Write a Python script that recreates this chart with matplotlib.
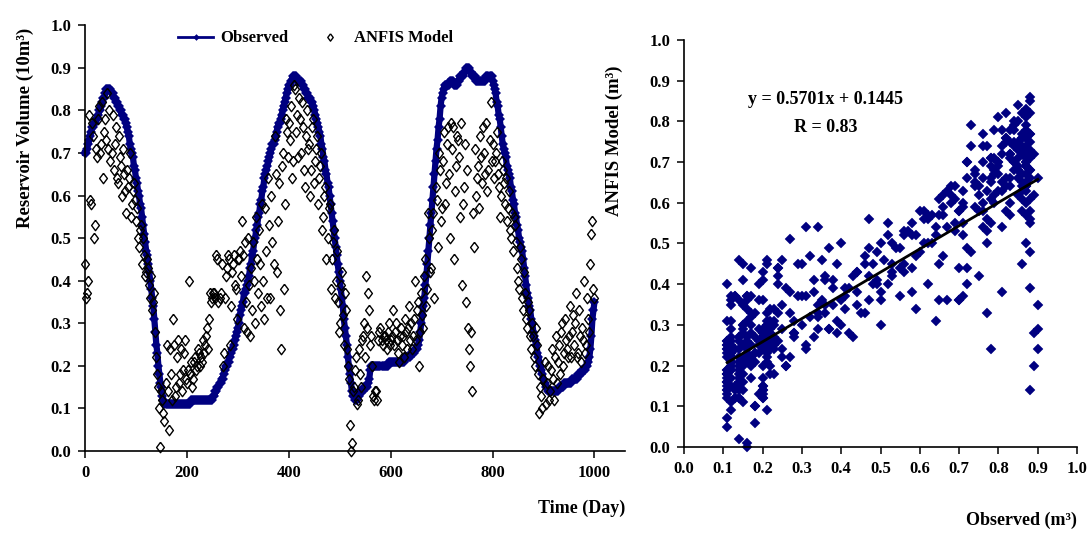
import matplotlib
matplotlib.use('Agg')
import matplotlib.pyplot as plt

plt.rcParams['font.family'] = ['Liberation Serif', 'DejaVu Serif']
plt.rcParams['font.weight'] = 'bold'
plt.rcParams['axes.labelweight'] = 'bold'

# ---------------- data ----------------
day = list(range(0, 1001, 2))

observed = [
    0.70, 0.70, 0.71, 0.72, 0.73, 0.74, 0.75, 0.76, 0.76, 0.77, 0.77, 0.78, 0.78, 0.79, 0.80, 0.80, 0.81, 0.82, 0.83, 0.83,
    0.84, 0.85, 0.85, 0.85, 0.85, 0.85, 0.84, 0.84, 0.83, 0.83, 0.82, 0.82, 0.81, 0.81, 0.80, 0.80, 0.79, 0.79, 0.78, 0.78,
    0.77, 0.76, 0.75, 0.74, 0.72, 0.71, 0.70, 0.69, 0.67, 0.66, 0.64, 0.63, 0.61, 0.60, 0.58, 0.57, 0.55, 0.53, 0.51, 0.49,
    0.47, 0.46, 0.44, 0.42, 0.40, 0.38, 0.36, 0.34, 0.31, 0.28, 0.25, 0.23, 0.20, 0.18, 0.16, 0.15, 0.13, 0.12, 0.11, 0.11,
    0.11, 0.11, 0.11, 0.11, 0.11, 0.11, 0.11, 0.11, 0.11, 0.11, 0.11, 0.11, 0.11, 0.11, 0.11, 0.11, 0.11, 0.11, 0.11, 0.11,
    0.11, 0.11, 0.11, 0.11, 0.12, 0.12, 0.12, 0.12, 0.12, 0.12, 0.12, 0.12, 0.12, 0.12, 0.12, 0.12, 0.12, 0.12, 0.12, 0.12,
    0.12, 0.12, 0.12, 0.12, 0.12, 0.12, 0.13, 0.13, 0.14, 0.14, 0.15, 0.15, 0.16, 0.16, 0.17, 0.17, 0.18, 0.19, 0.20, 0.20,
    0.21, 0.21, 0.22, 0.23, 0.24, 0.24, 0.25, 0.26, 0.27, 0.28, 0.29, 0.30, 0.32, 0.33, 0.34, 0.35, 0.37, 0.37, 0.38, 0.39,
    0.40, 0.41, 0.43, 0.44, 0.46, 0.47, 0.49, 0.50, 0.52, 0.53, 0.55, 0.56, 0.58, 0.59, 0.61, 0.62, 0.64, 0.65, 0.66, 0.67,
    0.68, 0.69, 0.70, 0.71, 0.72, 0.72, 0.73, 0.74, 0.75, 0.76, 0.77, 0.77, 0.78, 0.79, 0.80, 0.81, 0.82, 0.83, 0.84, 0.85,
    0.86, 0.86, 0.87, 0.87, 0.88, 0.88, 0.88, 0.88, 0.87, 0.87, 0.87, 0.87, 0.87, 0.86, 0.86, 0.85, 0.85, 0.84, 0.84, 0.83,
    0.83, 0.83, 0.82, 0.82, 0.81, 0.80, 0.79, 0.78, 0.77, 0.76, 0.75, 0.74, 0.72, 0.71, 0.69, 0.68, 0.66, 0.65, 0.63, 0.62,
    0.60, 0.58, 0.56, 0.54, 0.52, 0.50, 0.48, 0.46, 0.44, 0.42, 0.40, 0.38, 0.36, 0.34, 0.31, 0.29, 0.27, 0.25, 0.22, 0.20,
    0.18, 0.16, 0.14, 0.13, 0.13, 0.12, 0.12, 0.12, 0.13, 0.13, 0.14, 0.14, 0.14, 0.14, 0.15, 0.15, 0.15, 0.15, 0.16, 0.17,
    0.19, 0.20, 0.20, 0.20, 0.20, 0.20, 0.20, 0.20, 0.20, 0.20, 0.20, 0.20, 0.20, 0.20, 0.20, 0.20, 0.20, 0.20, 0.21, 0.21,
    0.21, 0.21, 0.21, 0.21, 0.21, 0.21, 0.21, 0.21, 0.21, 0.21, 0.21, 0.21, 0.21, 0.21, 0.22, 0.22, 0.22, 0.22, 0.22, 0.22,
    0.23, 0.23, 0.23, 0.23, 0.24, 0.24, 0.24, 0.25, 0.26, 0.28, 0.30, 0.32, 0.34, 0.36, 0.39, 0.41, 0.44, 0.47, 0.50, 0.53,
    0.56, 0.59, 0.62, 0.65, 0.68, 0.71, 0.73, 0.76, 0.78, 0.81, 0.83, 0.84, 0.85, 0.86, 0.86, 0.86, 0.86, 0.86, 0.87, 0.87,
    0.87, 0.87, 0.86, 0.86, 0.86, 0.86, 0.87, 0.87, 0.88, 0.88, 0.88, 0.88, 0.89, 0.89, 0.90, 0.90, 0.90, 0.90, 0.89, 0.89,
    0.88, 0.88, 0.88, 0.88, 0.87, 0.87, 0.87, 0.87, 0.87, 0.87, 0.87, 0.87, 0.87, 0.87, 0.88, 0.88, 0.88, 0.88, 0.88, 0.88,
    0.87, 0.86, 0.85, 0.84, 0.82, 0.81, 0.79, 0.78, 0.76, 0.74, 0.72, 0.71, 0.70, 0.69, 0.67, 0.66, 0.65, 0.64, 0.62, 0.61,
    0.59, 0.58, 0.56, 0.55, 0.53, 0.52, 0.50, 0.49, 0.48, 0.47, 0.45, 0.43, 0.41, 0.39, 0.37, 0.36, 0.34, 0.33, 0.31, 0.30,
    0.28, 0.27, 0.26, 0.25, 0.23, 0.22, 0.21, 0.20, 0.19, 0.18, 0.17, 0.16, 0.15, 0.15, 0.14, 0.14, 0.14, 0.14, 0.14, 0.14,
    0.14, 0.14, 0.14, 0.14, 0.14, 0.15, 0.15, 0.15, 0.15, 0.15, 0.16, 0.16, 0.16, 0.16, 0.16, 0.16, 0.16, 0.16, 0.17, 0.17,
    0.17, 0.17, 0.17, 0.17, 0.18, 0.18, 0.18, 0.18, 0.19, 0.19, 0.19, 0.19, 0.20, 0.20, 0.21, 0.22, 0.24, 0.27, 0.31, 0.33,
    0.35,
]

anfis = [
    0.44, 0.36, 0.37, 0.40, 0.79, 0.59, 0.58, 0.77, 0.74, 0.50, 0.53, 0.71, 0.69, 0.78, 0.81, 0.70, 0.72, 0.82, 0.64, 0.75,
    0.78, 0.73, 0.84, 0.71, 0.80, 0.68, 0.70, 0.79, 0.66, 0.72, 0.76, 0.64, 0.63, 0.74, 0.69, 0.67, 0.60, 0.71, 0.65, 0.61,
    0.56, 0.66, 0.62, 0.64, 0.70, 0.55, 0.58, 0.61, 0.63, 0.59, 0.54, 0.57, 0.50, 0.48, 0.52, 0.53, 0.44, 0.50, 0.46, 0.41,
    0.42, 0.45, 0.43, 0.39, 0.36, 0.41, 0.33, 0.35, 0.37, 0.28, 0.22, 0.18, 0.15, 0.10, 0.01, 0.14, 0.12, 0.09, 0.07, 0.16,
    0.25, 0.14, 0.05, 0.24, 0.18, 0.12, 0.31, 0.25, 0.13, 0.15, 0.22, 0.26, 0.16, 0.18, 0.24, 0.14, 0.19, 0.23, 0.26, 0.17,
    0.16, 0.19, 0.40, 0.18, 0.21, 0.15, 0.17, 0.21, 0.22, 0.19, 0.20, 0.24, 0.23, 0.20, 0.22, 0.21, 0.26, 0.23, 0.25, 0.27,
    0.29, 0.24, 0.31, 0.37, 0.35, 0.36, 0.37, 0.37, 0.36, 0.46, 0.45, 0.35, 0.36, 0.37, 0.44, 0.20, 0.23, 0.36, 0.41, 0.43,
    0.46, 0.45, 0.25, 0.34, 0.42, 0.44, 0.46, 0.39, 0.38, 0.31, 0.45, 0.45, 0.47, 0.41, 0.54, 0.46, 0.29, 0.49, 0.35, 0.28,
    0.50, 0.39, 0.27, 0.43, 0.33, 0.49, 0.40, 0.30, 0.55, 0.45, 0.37, 0.52, 0.44, 0.34, 0.58, 0.40, 0.31, 0.57, 0.47, 0.36,
    0.64, 0.53, 0.36, 0.60, 0.49, 0.44, 0.74, 0.65, 0.42, 0.54, 0.63, 0.33, 0.24, 0.67, 0.70, 0.38, 0.58, 0.78, 0.75, 0.69,
    0.77, 0.73, 0.81, 0.64, 0.68, 0.86, 0.85, 0.75, 0.79, 0.69, 0.83, 0.78, 0.70, 0.82, 0.76, 0.66, 0.62, 0.74, 0.80, 0.71,
    0.72, 0.60, 0.66, 0.76, 0.78, 0.63, 0.68, 0.71, 0.74, 0.58, 0.64, 0.67, 0.70, 0.52, 0.55, 0.60, 0.62, 0.45, 0.50, 0.57,
    0.58, 0.38, 0.45, 0.49, 0.52, 0.36, 0.40, 0.47, 0.35, 0.28, 0.30, 0.39, 0.42, 0.32, 0.25, 0.37, 0.33, 0.24, 0.20, 0.17,
    0.06, 0.00, 0.02, 0.14, 0.15, 0.19, 0.22, 0.11, 0.12, 0.24, 0.18, 0.15, 0.26, 0.27, 0.30, 0.22, 0.41, 0.29, 0.37, 0.33,
    0.25, 0.27, 0.20, 0.13, 0.12, 0.14, 0.14, 0.12, 0.26, 0.28, 0.29, 0.26, 0.25, 0.27, 0.27, 0.26, 0.24, 0.28, 0.30, 0.25,
    0.26, 0.27, 0.33, 0.25, 0.28, 0.30, 0.26, 0.23, 0.21, 0.27, 0.29, 0.25, 0.27, 0.22, 0.31, 0.28, 0.24, 0.29, 0.34, 0.26,
    0.30, 0.24, 0.27, 0.31, 0.40, 0.26, 0.33, 0.35, 0.20, 0.28, 0.37, 0.32, 0.29, 0.41, 0.45, 0.34, 0.38, 0.56, 0.50, 0.42,
    0.43, 0.52, 0.56, 0.36, 0.62, 0.59, 0.48, 0.70, 0.66, 0.54, 0.57, 0.68, 0.75, 0.58, 0.63, 0.72, 0.76, 0.65, 0.50, 0.77,
    0.71, 0.76, 0.45, 0.61, 0.67, 0.74, 0.73, 0.69, 0.55, 0.77, 0.39, 0.58, 0.62, 0.72, 0.35, 0.66, 0.29, 0.24, 0.20, 0.28,
    0.14, 0.56, 0.48, 0.71, 0.60, 0.64, 0.67, 0.57, 0.74, 0.69, 0.63, 0.76, 0.70, 0.65, 0.77, 0.61, 0.66, 0.73, 0.82, 0.68,
    0.72, 0.64, 0.68, 0.70, 0.75, 0.65, 0.62, 0.55, 0.60, 0.68, 0.66, 0.63, 0.58, 0.64, 0.54, 0.57, 0.61, 0.52, 0.50, 0.56,
    0.47, 0.55, 0.53, 0.49, 0.43, 0.40, 0.38, 0.48, 0.45, 0.36, 0.33, 0.42, 0.37, 0.31, 0.29, 0.35, 0.33, 0.27, 0.24, 0.30,
    0.27, 0.22, 0.20, 0.29, 0.25, 0.18, 0.09, 0.15, 0.13, 0.10, 0.17, 0.21, 0.11, 0.16, 0.20, 0.12, 0.14, 0.19, 0.24, 0.17,
    0.12, 0.22, 0.27, 0.16, 0.21, 0.25, 0.18, 0.28, 0.30, 0.20, 0.23, 0.31, 0.26, 0.24, 0.22, 0.27, 0.34, 0.22, 0.28, 0.32,
    0.25, 0.30, 0.37, 0.22, 0.23, 0.33, 0.27, 0.21, 0.29, 0.26, 0.40, 0.23, 0.25, 0.36, 0.31, 0.28, 0.44, 0.51, 0.54, 0.38,
    0.36,
]

slope = 0.5701
intercept = 0.1445
r_value = 0.83

volume_ticks = [0.0, 0.1, 0.2, 0.3, 0.4, 0.5, 0.6, 0.7, 0.8, 0.9, 1.0]
day_ticks = [0, 200, 400, 600, 800, 1000]

# ---------------- style ----------------
NAVY = '#000080'
open_diamond = [(0, 1), (0.75, 0), (0, -1), (-0.75, 0), (0, 1)]

fig = plt.figure(figsize=(10.9, 5.33), dpi=100)
ax1 = fig.add_axes([0.078, 0.1538, 0.4954, 0.799])
ax2 = fig.add_axes([0.6275, 0.1614, 0.3606, 0.7636])

for ax in (ax1, ax2):
    for s in ('top', 'right'):
        ax.spines[s].set_visible(False)
    for s in ('left', 'bottom'):
        ax.spines[s].set_linewidth(1.2)
    ax.tick_params(direction='out', length=5, width=1.1, labelsize=12, pad=5)
    ax.set_facecolor('white')

# ---------------- left panel ----------------
ax1.plot(day, observed, color=NAVY, lw=4.5, marker='D', ms=4.8, mew=0,
         label='Observed', zorder=2, clip_on=False)
ax1.plot(day, anfis, ls='none', marker=open_diamond, ms=7.5, mfc='none',
         mec='black', mew=1.0, label='ANFIS Model', zorder=3, clip_on=False)
ax1.set_xlim(0, 1060)
ax1.set_ylim(0, 1.0)
ax1.set_xticks(day_ticks)
ax1.set_yticks(volume_ticks)
ax1.set_yticklabels([f'{v:.1f}' for v in volume_ticks])
ax1.set_ylabel('Reservoir Volume (10m³)', fontsize=13.5)
ax1.yaxis.set_label_coords(-0.095, 0.758)
ax1.set_xlabel('Time (Day)', fontsize=13, loc='right')
ax1.xaxis.set_label_coords(1.0, -0.115)

leg = ax1.legend(loc='center left', bbox_to_anchor=(0.157, 0.969), ncol=2,
                 frameon=False, fontsize=12, borderpad=0, handlelength=2.1,
                 handletextpad=0.4, columnspacing=1.45, markerscale=0.7)
leg.get_lines()[0].set_linewidth(2.0)

# ---------------- right panel ----------------
ax2.plot(observed, anfis, ls='none', marker='D', ms=5.6, mew=0.3,
         color=NAVY, zorder=2, clip_on=False)
x_fit = [min(observed), max(observed)]
y_fit = [slope * x + intercept for x in x_fit]
ax2.plot(x_fit, y_fit, color='black', lw=2, zorder=3)
ax2.set_xlim(0, 1.0)
ax2.set_ylim(0, 1.0)
ax2.set_xticks(volume_ticks)
ax2.set_yticks(volume_ticks)
ax2.set_xticklabels([f'{v:.1f}' for v in volume_ticks])
ax2.set_yticklabels([f'{v:.1f}' for v in volume_ticks])
ax2.text(0.361, 0.853, f'y = {slope:.4f}x + {intercept:.4f}', ha='center',
         va='center', fontsize=13)
ax2.text(0.361, 0.786, f'R = {r_value:.2f}', ha='center', va='center', fontsize=13)
ax2.set_ylabel('ANFIS Model (m³)', fontsize=13.5)
ax2.yaxis.set_label_coords(-0.155, 0.752)
ax2.set_xlabel('Observed (m³)', fontsize=13, loc='right')
ax2.xaxis.set_label_coords(1.0, -0.16)

fig.savefig('out.png', dpi=100, facecolor='white')
